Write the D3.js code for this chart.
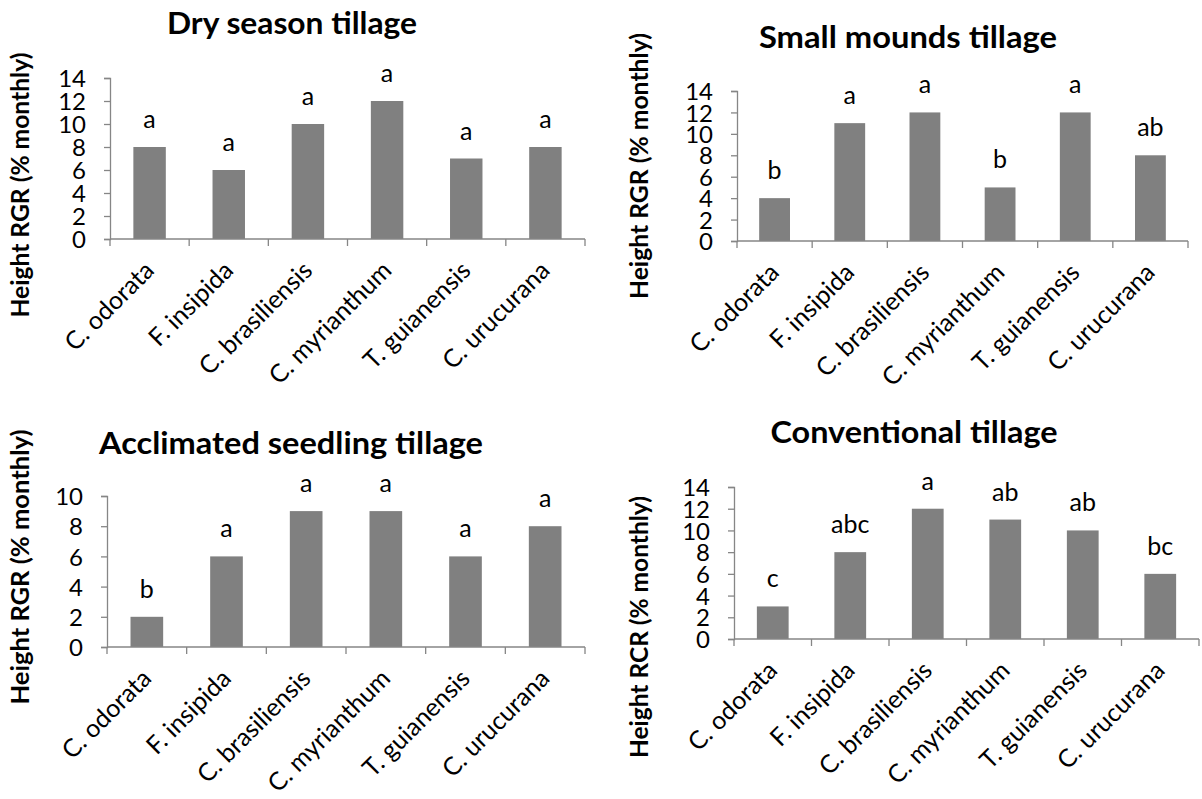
<!DOCTYPE html>
<html>
<head>
<meta charset="utf-8">
<script src="https://cdn.jsdelivr.net/npm/d3@7"></script>
<style>
  html, body { margin: 0; padding: 0; background: #fff; }
  svg { display: block; font-family: Lato, "Open Sans", sans-serif; }
</style>
</head>
<body>
<svg id="chart" width="1202" height="799"></svg>
<script>
// ---- Data ----
const categories = ["C. odorata", "F. insipida", "C. brasiliensis", "C. myrianthum", "T. guianensis", "C. urucurana"];

const titles = ["Dry season tillage", "Small mounds tillage", "Acclimated seedling tillage", "Conventional tillage"];
const yAxisTitles = ["Height RGR (% monthly)", "Height RGR (% monthly)", "Height RGR (% monthly)", "Height RCR (% monthly)"];

const dryValues = [8, 6, 10, 12, 7, 8];
const dryLetters = ["a", "a", "a", "a", "a", "a"];

const moundValues = [4, 11, 12, 5, 12, 8];
const moundLetters = ["b", "a", "a", "b", "a", "ab"];

const acclimatedValues = [2, 6, 9, 9, 6, 8];
const acclimatedLetters = ["b", "a", "a", "a", "a", "a"];

const conventionalValues = [3, 8, 12, 11, 10, 6];
const conventionalLetters = ["c", "abc", "a", "ab", "ab", "bc"];

const ticks14 = [0, 2, 4, 6, 8, 10, 12, 14];
const ticks10 = [0, 2, 4, 6, 8, 10];

// ---- Layout per panel ----
const panels = [
  { title: titles[0], yTitle: yAxisTitles[0], values: dryValues, letters: dryLetters, ticks: ticks14, yMax: 14,
    x0: 110, x1: 585, yTop: 78, yBottom: 239, titleX: 292, titleY: 34, titleLen: 250, yTitleX: 29, yTitleY: 185, yTitleLen: 265 },
  { title: titles[1], yTitle: yAxisTitles[1], values: moundValues, letters: moundLetters, ticks: ticks14, yMax: 14,
    x0: 737, x1: 1188, yTop: 91, yBottom: 241, titleX: 908, titleY: 48, titleLen: 298, yTitleX: 648, yTitleY: 166, yTitleLen: 266 },
  { title: titles[2], yTitle: yAxisTitles[2], values: acclimatedValues, letters: acclimatedLetters, ticks: ticks10, yMax: 10,
    x0: 107, x1: 585, yTop: 496, yBottom: 647, titleX: 291, titleY: 454, titleLen: 384, yTitleX: 29, yTitleY: 567, yTitleLen: 275 },
  { title: titles[3], yTitle: yAxisTitles[3], values: conventionalValues, letters: conventionalLetters, ticks: ticks14, yMax: 14,
    x0: 734, x1: 1199, yTop: 487, yBottom: 639, titleX: 914, titleY: 443, titleLen: 287, yTitleX: 648, yTitleY: 627, yTitleLen: 262 }
];

const svg = d3.select("#chart");
const axisColor = "#868686";
const barColor = "#808080";

panels.forEach(p => {
  const g = svg.append("g");
  const x = d3.scaleBand().domain(categories).range([p.x0, p.x1]).paddingInner(0.59).paddingOuter(0.295);
  const xb = d3.scaleBand().domain(categories).range([p.x0, p.x1]).padding(0);
  const y = d3.scaleLinear().domain([0, p.yMax]).range([p.yBottom, p.yTop]);

  // Y axis
  const yAxis = d3.axisLeft(y).tickValues(p.ticks).tickSize(6).tickPadding(18).tickFormat(d3.format("d"));
  const ya = g.append("g").attr("transform", `translate(${p.x0},0)`).call(yAxis);
  ya.select(".domain").attr("stroke", axisColor).attr("stroke-width", 1.3);
  ya.selectAll(".tick line").attr("stroke", axisColor).attr("stroke-width", 1.3);
  ya.selectAll(".tick text").attr("fill", "#000").style("font-size", "24px").style("font-family", "Lato").attr("dy", "0.36em");

  // Bars
  g.selectAll("rect.bar").data(p.values).enter().append("rect")
    .attr("x", (d, i) => x(categories[i]))
    .attr("width", x.bandwidth())
    .attr("y", d => y(d))
    .attr("height", d => y(0) - y(d))
    .attr("fill", barColor);

  // X axis line and ticks at band boundaries
  const bounds = categories.map(c => xb(c)).concat([p.x1]);
  g.append("line").attr("x1", p.x0).attr("x2", p.x1).attr("y1", p.yBottom).attr("y2", p.yBottom)
    .attr("stroke", axisColor).attr("stroke-width", 1.3);
  g.selectAll("line.xt").data(bounds).enter().append("line")
    .attr("x1", d => d).attr("x2", d => d).attr("y1", p.yBottom).attr("y2", p.yBottom + 7)
    .attr("stroke", axisColor).attr("stroke-width", 1.3);

  // Category labels rotated
  g.selectAll("text.cat").data(categories).enter().append("text")
    .attr("transform", c => `translate(${xb(c) + xb.bandwidth() / 2 + 6},${p.yBottom + 33}) rotate(-45)`)
    .attr("text-anchor", "end")
    .style("font-size", "25px")
    .attr("fill", "#000")
    .text(c => c);

  // Letter labels
  g.selectAll("text.lbl").data(p.values).enter().append("text")
    .attr("x", (d, i) => x(categories[i]) + x.bandwidth() / 2)
    .attr("y", d => y(d) - 19)
    .attr("text-anchor", "middle")
    .style("font-size", "25px")
    .attr("fill", "#000")
    .text((d, i) => p.letters[i]);

  // Title
  g.append("text").attr("x", p.titleX).attr("y", p.titleY)
    .attr("text-anchor", "middle").style("font-size", "31px").style("font-weight", "bold")
    .attr("textLength", p.titleLen).attr("lengthAdjust", "spacingAndGlyphs")
    .text(p.title);

  // Y axis title
  g.append("text")
    .attr("transform", `translate(${p.yTitleX},${p.yTitleY}) rotate(-90)`)
    .attr("text-anchor", "middle").style("font-size", "25px").style("font-weight", "bold")
    .attr("textLength", p.yTitleLen).attr("lengthAdjust", "spacingAndGlyphs")
    .text(p.yTitle);
});
</script>
</body>
</html>
